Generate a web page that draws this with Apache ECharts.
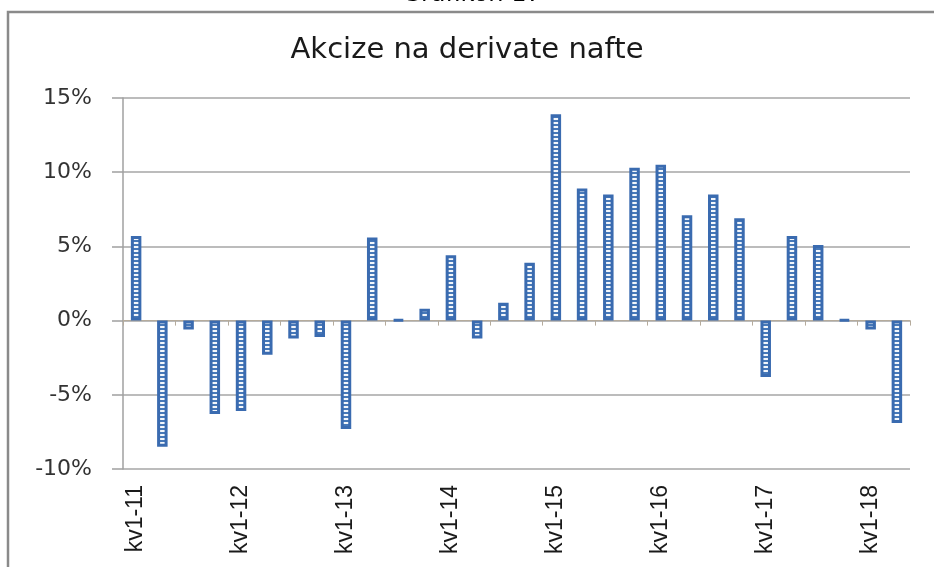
<!DOCTYPE html>
<html>
<head>
<meta charset="utf-8">
<script src="https://cdn.jsdelivr.net/npm/echarts@6/dist/echarts.min.js"></script>
<style>
html,body{margin:0;padding:0;background:#fff;}
#chart{width:934px;height:567px;}
</style>
</head>
<body>
<div id="chart"></div>
<script>
// ---- data ----
var categories = [
  'kv1-11','kv2-11','kv3-11','kv4-11',
  'kv1-12','kv2-12','kv3-12','kv4-12',
  'kv1-13','kv2-13','kv3-13','kv4-13',
  'kv1-14','kv2-14','kv3-14','kv4-14',
  'kv1-15','kv2-15','kv3-15','kv4-15',
  'kv1-16','kv2-16','kv3-16','kv4-16',
  'kv1-17','kv2-17','kv3-17','kv4-17',
  'kv1-18','kv2-18'
];
var values = [
  5.7, -8.5, -0.6, -6.3, -6.1, -2.3, -1.2, -1.1,
  -7.3, 5.6, 0.05, 0.8, 4.4, -1.2, 1.2, 3.9,
  13.9, 8.9, 8.5, 10.3, 10.5, 7.1, 8.5, 6.9,
  -3.8, 5.7, 5.1, 0.05, -0.6, -6.9
];
var chartTitle = 'Akcize na derivate nafte';
var pageCaption = 'Grafikon 17';

// ---- striped pattern for bars ----
var pat = document.createElement('canvas');
pat.width = 4; pat.height = 4;
var pctx = pat.getContext('2d');
pctx.fillStyle = '#4678b8';
pctx.fillRect(0, 0, 4, 2);
pctx.fillStyle = '#f2f6fb';
pctx.fillRect(0, 2, 4, 2);

var chart = echarts.init(document.getElementById('chart'), null, {renderer: 'canvas'});
var option = {
  animation: false,
  backgroundColor: '#ffffff',
  title: {
    text: chartTitle,
    left: 'center',
    top: 31,
    textStyle: {fontFamily: 'DejaVu Sans', fontSize: 29, fontWeight: 'normal', color: '#1a1a1a'}
  },
  graphic: [
    {
      type: 'text', x: 472, y: 7, silent: true,
      style: {text: pageCaption, font: '24px "DejaVu Sans"', fill: '#000', align: 'center', verticalAlign: 'bottom'}
    },
    {
      type: 'rect', silent: true,
      shape: {x: 8, y: 12, width: 1000, height: 700},
      style: {fill: 'none', stroke: '#8a8a8a', lineWidth: 2.5}
    }
  ],
  grid: {left: 123, right: 24, top: 98, bottom: 98, containLabel: false},
  xAxis: [
    {
      type: 'category', data: categories, position: 'bottom',
      axisLine: {show: false, onZero: false},
      axisTick: {show: false},
      axisLabel: {
        interval: 3, rotate: 90, margin: 16,
        fontFamily: 'Liberation Sans', fontSize: 23, color: '#1a1a1a'
      },
      splitLine: {show: false}
    },
    {
      type: 'category', data: categories, position: 'top',
      axisLine: {show: true, onZero: true, lineStyle: {color: '#b5ab9c', width: 1.2}},
      axisTick: {show: true, inside: true, length: 5, alignWithLabel: false, lineStyle: {color: '#b5ab9c', width: 1}},
      axisLabel: {show: false},
      splitLine: {show: false}
    }
  ],
  yAxis: {
    type: 'value', min: -10, max: 15, interval: 5,
    axisLine: {show: true, lineStyle: {color: '#a0a0a0', width: 1.5}},
    axisTick: {show: true, length: 11, lineStyle: {color: '#a0a0a0', width: 1.5}},
    axisLabel: {
      formatter: '{value}%', margin: 31,
      fontFamily: 'DejaVu Sans', fontSize: 22, color: '#333'
    },
    splitLine: {show: true, lineStyle: {color: '#a6a6a6', width: 1.5}}
  },
  series: [{
    type: 'bar',
    data: values,
    xAxisIndex: 0,
    barWidth: 10.5,
    itemStyle: {
      color: {image: pat, repeat: 'repeat'},
      borderColor: '#3a6bb0',
      borderWidth: 3
    }
  }]
};
chart.setOption(option);
</script>
</body>
</html>
